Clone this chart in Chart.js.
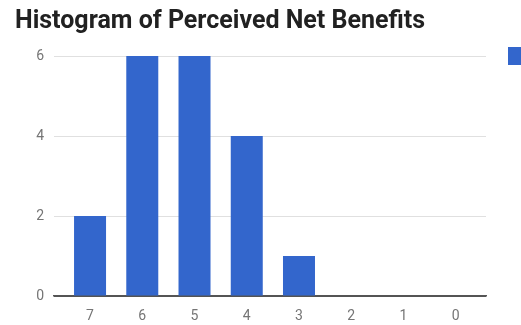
<!DOCTYPE html>
<html>
<head>
<meta charset="utf-8">
<script src="https://cdn.jsdelivr.net/npm/chart.js@4/dist/chart.umd.min.js"></script>
<style>
  html, body { margin: 0; padding: 0; background: #fff; overflow: hidden; }
  #wrap { width: 521px; height: 325px; }
</style>
</head>
<body>
<div id="wrap"><canvas id="c" width="521" height="325"></canvas></div>
<script>
// Histogram bins (score values, highest first) and the number of responses in each
const binLabels = ['7', '6', '5', '4', '3', '2', '1', '0'];
const counts = [2, 6, 6, 4, 1, 0, 0, 0];
const yTicks = [0, 2, 4, 6];

const points = binLabels.map((_, i) => ({ x: i, y: counts[i] }));

new Chart(document.getElementById('c'), {
  type: 'bar',
  data: {
    datasets: [{
      label: 'Responses',
      data: points,
      backgroundColor: '#3366cc',
      borderWidth: 0,
      inflateAmount: 0,
      barThickness: 32
    }]
  },
  options: {
    responsive: false,
    animation: false,
    layout: { padding: { left: 15, right: 0, top: 0, bottom: 0 } },
    plugins: {
      title: {
        display: true,
        text: 'Histogram of Perceived Net Benefits',
        align: 'start',
        color: '#212121',
        font: { family: 'Roboto', size: 25, weight: 'bold', lineHeight: 1.2 },
        padding: { top: 7, bottom: 19 }
      },
      legend: {
        display: true,
        position: 'right',
        align: 'start',
        maxWidth: 35,
        title: { display: true, text: '', font: { size: 12, lineHeight: 1.2 }, padding: { top: 0, bottom: 10.6 } },
        labels: {
          boxWidth: 18,
          boxHeight: 18,
          padding: 22,
          color: '#222',
          font: { family: 'Roboto', size: 14 }
        }
      },
      tooltip: { enabled: false }
    },
    scales: {
      x: {
        type: 'linear',
        offset: false,
        min: -0.69,
        max: 7.58,
        z: 1,
        grid: { display: false, drawTicks: false },
        border: { display: true, color: '#555555', width: 1.5 },
        afterBuildTicks: s => { s.ticks = binLabels.map((_, i) => ({ value: i })); },
        afterFit: s => { s.height = 29; },
        ticks: {
          color: '#757575',
          font: { family: 'Roboto', size: 14 },
          padding: 12,
          maxRotation: 0,
          autoSkip: false,
          callback: v => binLabels[v]
        }
      },
      y: {
        min: 0,
        max: 6,
        afterFit: s => { s.width = 39; },
        afterBuildTicks: s => { s.ticks = yTicks.map(v => ({ value: v })); },
        border: { display: false },
        grid: {
          drawTicks: false,
          color: ctx => ctx.tick && ctx.tick.value === 0 ? '#555555' : '#e0e0e0',
          lineWidth: 1
        },
        ticks: {
          color: '#757575',
          font: { family: 'Roboto', size: 14 },
          padding: 10
        }
      }
    }
  }
});
</script>
</body>
</html>
